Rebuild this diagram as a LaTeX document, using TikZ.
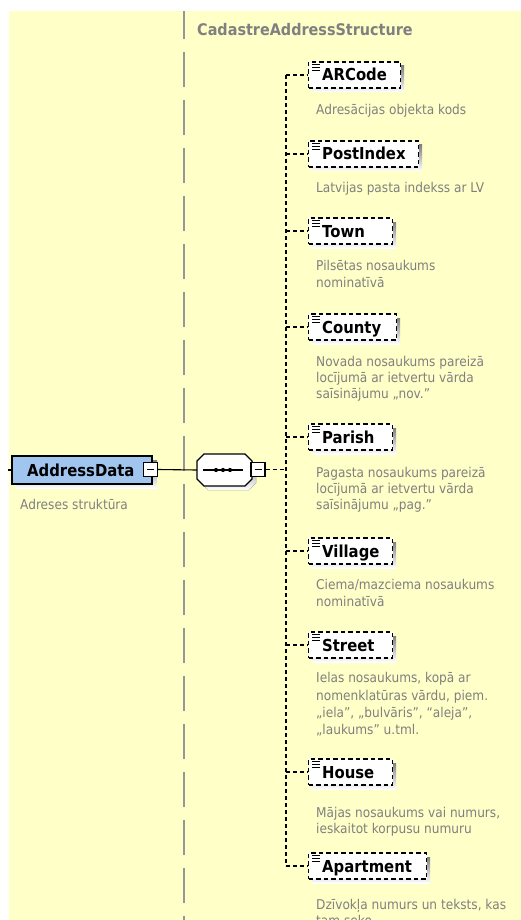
\documentclass[tikz,border=0pt]{standalone}
\usepackage{fontspec}
\setmainfont{DejaVu Sans}[FakeStretch=0.9]
\definecolor{bgy}{RGB}{255,255,200}
\definecolor{shade}{RGB}{192,192,192}
\definecolor{blu}{RGB}{160,198,240}
\definecolor{txtg}{RGB}{128,128,128}
\definecolor{sepg}{RGB}{150,150,150}
\tikzset{
  lab/.style={font=\fontsize{16.5}{18}\selectfont\bfseries, inner sep=0pt, anchor=base west},
  dsc/.style={font=\fontsize{13.5}{16.5}\selectfont, text=txtg, inner sep=0pt, anchor=base west},
  dline/.style={line width=1.4pt, dash pattern=on 4pt off 3pt},
  elbox/.style={draw, fill=white, line width=1.4pt, dash pattern=on 4.5pt off 3pt, inner sep=0pt},
  minusbox/.style={draw, fill=white, line width=1.1pt, minimum size=14pt, inner sep=0pt},
  solid1/.style={line width=1.1pt},
}
\newcommand\childel[4]{%
  \fill[shade] (312,#2-9) rectangle (312+#3,#2+17);
  \node[elbox, minimum width=#3pt, minimum height=26pt, anchor=west] (#1) at (308,#2) {};
  \node[lab] (#1t) at (322,#2+6) {#4};
  \draw[line width=0.9pt] (312,#2-11) -- (320,#2-11) (312,#2-8) -- (320,#2-8) (312,#2-5) -- (320,#2-5);
  \draw[dline] (bus |- #1.west) -- (#1.west);
}
\newcommand\dl[3]{\node[dsc] (#1) at (316,#2) {#3};}
\begin{document}
\begin{tikzpicture}[x=1pt,y=-1pt]
\useasboundingbox (0,0) rectangle (521,920);
\fill[white] (0,0) rectangle (521,920);
\fill[bgy] (9,11) rectangle (521,920);
% type separator line
\draw[sepg, line width=2pt, dash pattern=on 35pt off 13pt, dash phase=7pt] (184,11) -- (184,920);
\node[font=\fontsize{16}{18}\selectfont\bfseries, text=txtg, inner sep=0pt, anchor=base west] (ctype) at (197,36) {CadastreAddressStructure};
% root element
\fill[shade] (16,460) rectangle (157,488);
\node[draw, fill=blu, line width=1.3pt, minimum width=140pt, minimum height=28pt, inner sep=0pt] (ad) at (82,470) {};
\node[lab] (adt) at (27,476) {AddressData};
\node[minusbox] (adm) at (150.5,469.5) {};
\draw[line width=1.6pt] (adm.center) ++(-3.5,0) -- ++(7,0);
\coordinate (lstub) at (8,470);
\draw[solid1] (lstub) -- (ad.west);
\node[dsc] (add) at (20,509.5) {Adreses struktūra};
% sequence compositor
\fill[shade] (208,458) -- (249,458) -- (256,465) -- (256,483) -- (249,490) -- (208,490) -- (201,483) -- (201,465) -- cycle;
\node[minimum width=55pt, minimum height=32pt, inner sep=0pt] (seq) at (224.5,470) {};
\draw[solid1, fill=white] (204,454) -- (245,454) -- (252,461) -- (252,479) -- (245,486) -- (204,486) -- (197,479) -- (197,461) -- cycle;
\draw[solid1] (203,470) -- (243,470);
\fill (216,470) circle (2.1) (223,470) circle (2.1) (230,470) circle (2.1);
\node[minusbox] (seqm) at (258,469.5) {};
\draw[line width=1.6pt] (seqm.center) ++(-3.5,0) -- ++(7,0);
\draw[solid1] (adm.east) -- (seq.west);
% bus
\coordinate (bus) at (286,75);
\coordinate (busend) at (286,866);
\draw[dline] (bus) -- (busend);
\draw[dline] (seqm.east) -- (seqm.east -| bus);
% children
\childel{arcode}{75}{92}{ARCode}
\childel{postindex}{154}{110}{PostIndex}
\childel{town}{231}{84}{Town}
\childel{county}{327}{88}{County}
\childel{parish}{437}{84}{Parish}
\childel{village}{551}{84}{Village}
\childel{street}{645}{84}{Street}
\childel{house}{772}{84}{House}
\childel{apartment}{866}{118}{Apartment}
% descriptions
\dl{d1a}{114.5}{Adresācijas objekta kods}
\dl{d2a}{192.5}{Latvijas pasta indekss ar LV}
\dl{d3a}{270.5}{Pilsētas nosaukums}
\dl{d3b}{287}{nominatīvā}
\dl{d4a}{366.5}{Novada nosaukums pareizā}
\dl{d4b}{382}{locījumā ar ietvertu vārda}
\dl{d4c}{398}{saīsinājumu „nov.”}
\dl{d5a}{477.5}{Pagasta nosaukums pareizā}
\dl{d5b}{493.5}{locījumā ar ietvertu vārda}
\dl{d5c}{509.5}{saīsinājumu „pag.”}
\dl{d6a}{589.5}{Ciema/mazciema nosaukums}
\dl{d6b}{606}{nominatīvā}
\dl{d7a}{682.5}{Ielas nosaukums, kopā ar}
\dl{d7b}{700}{nomenklatūras vārdu, piem.}
\dl{d7c}{717}{„iela”, „bulvāris”, “aleja”,}
\dl{d7d}{734}{„laukums” u.tml.}
\dl{d8a}{817}{Mājas nosaukums vai numurs,}
\dl{d8b}{833.5}{ieskaitot korpusu numuru}
\dl{d9a}{909.5}{Dzīvokļa numurs un teksts, kas}
\dl{d9b}{925}{tam seko}
\end{tikzpicture}
\end{document}
